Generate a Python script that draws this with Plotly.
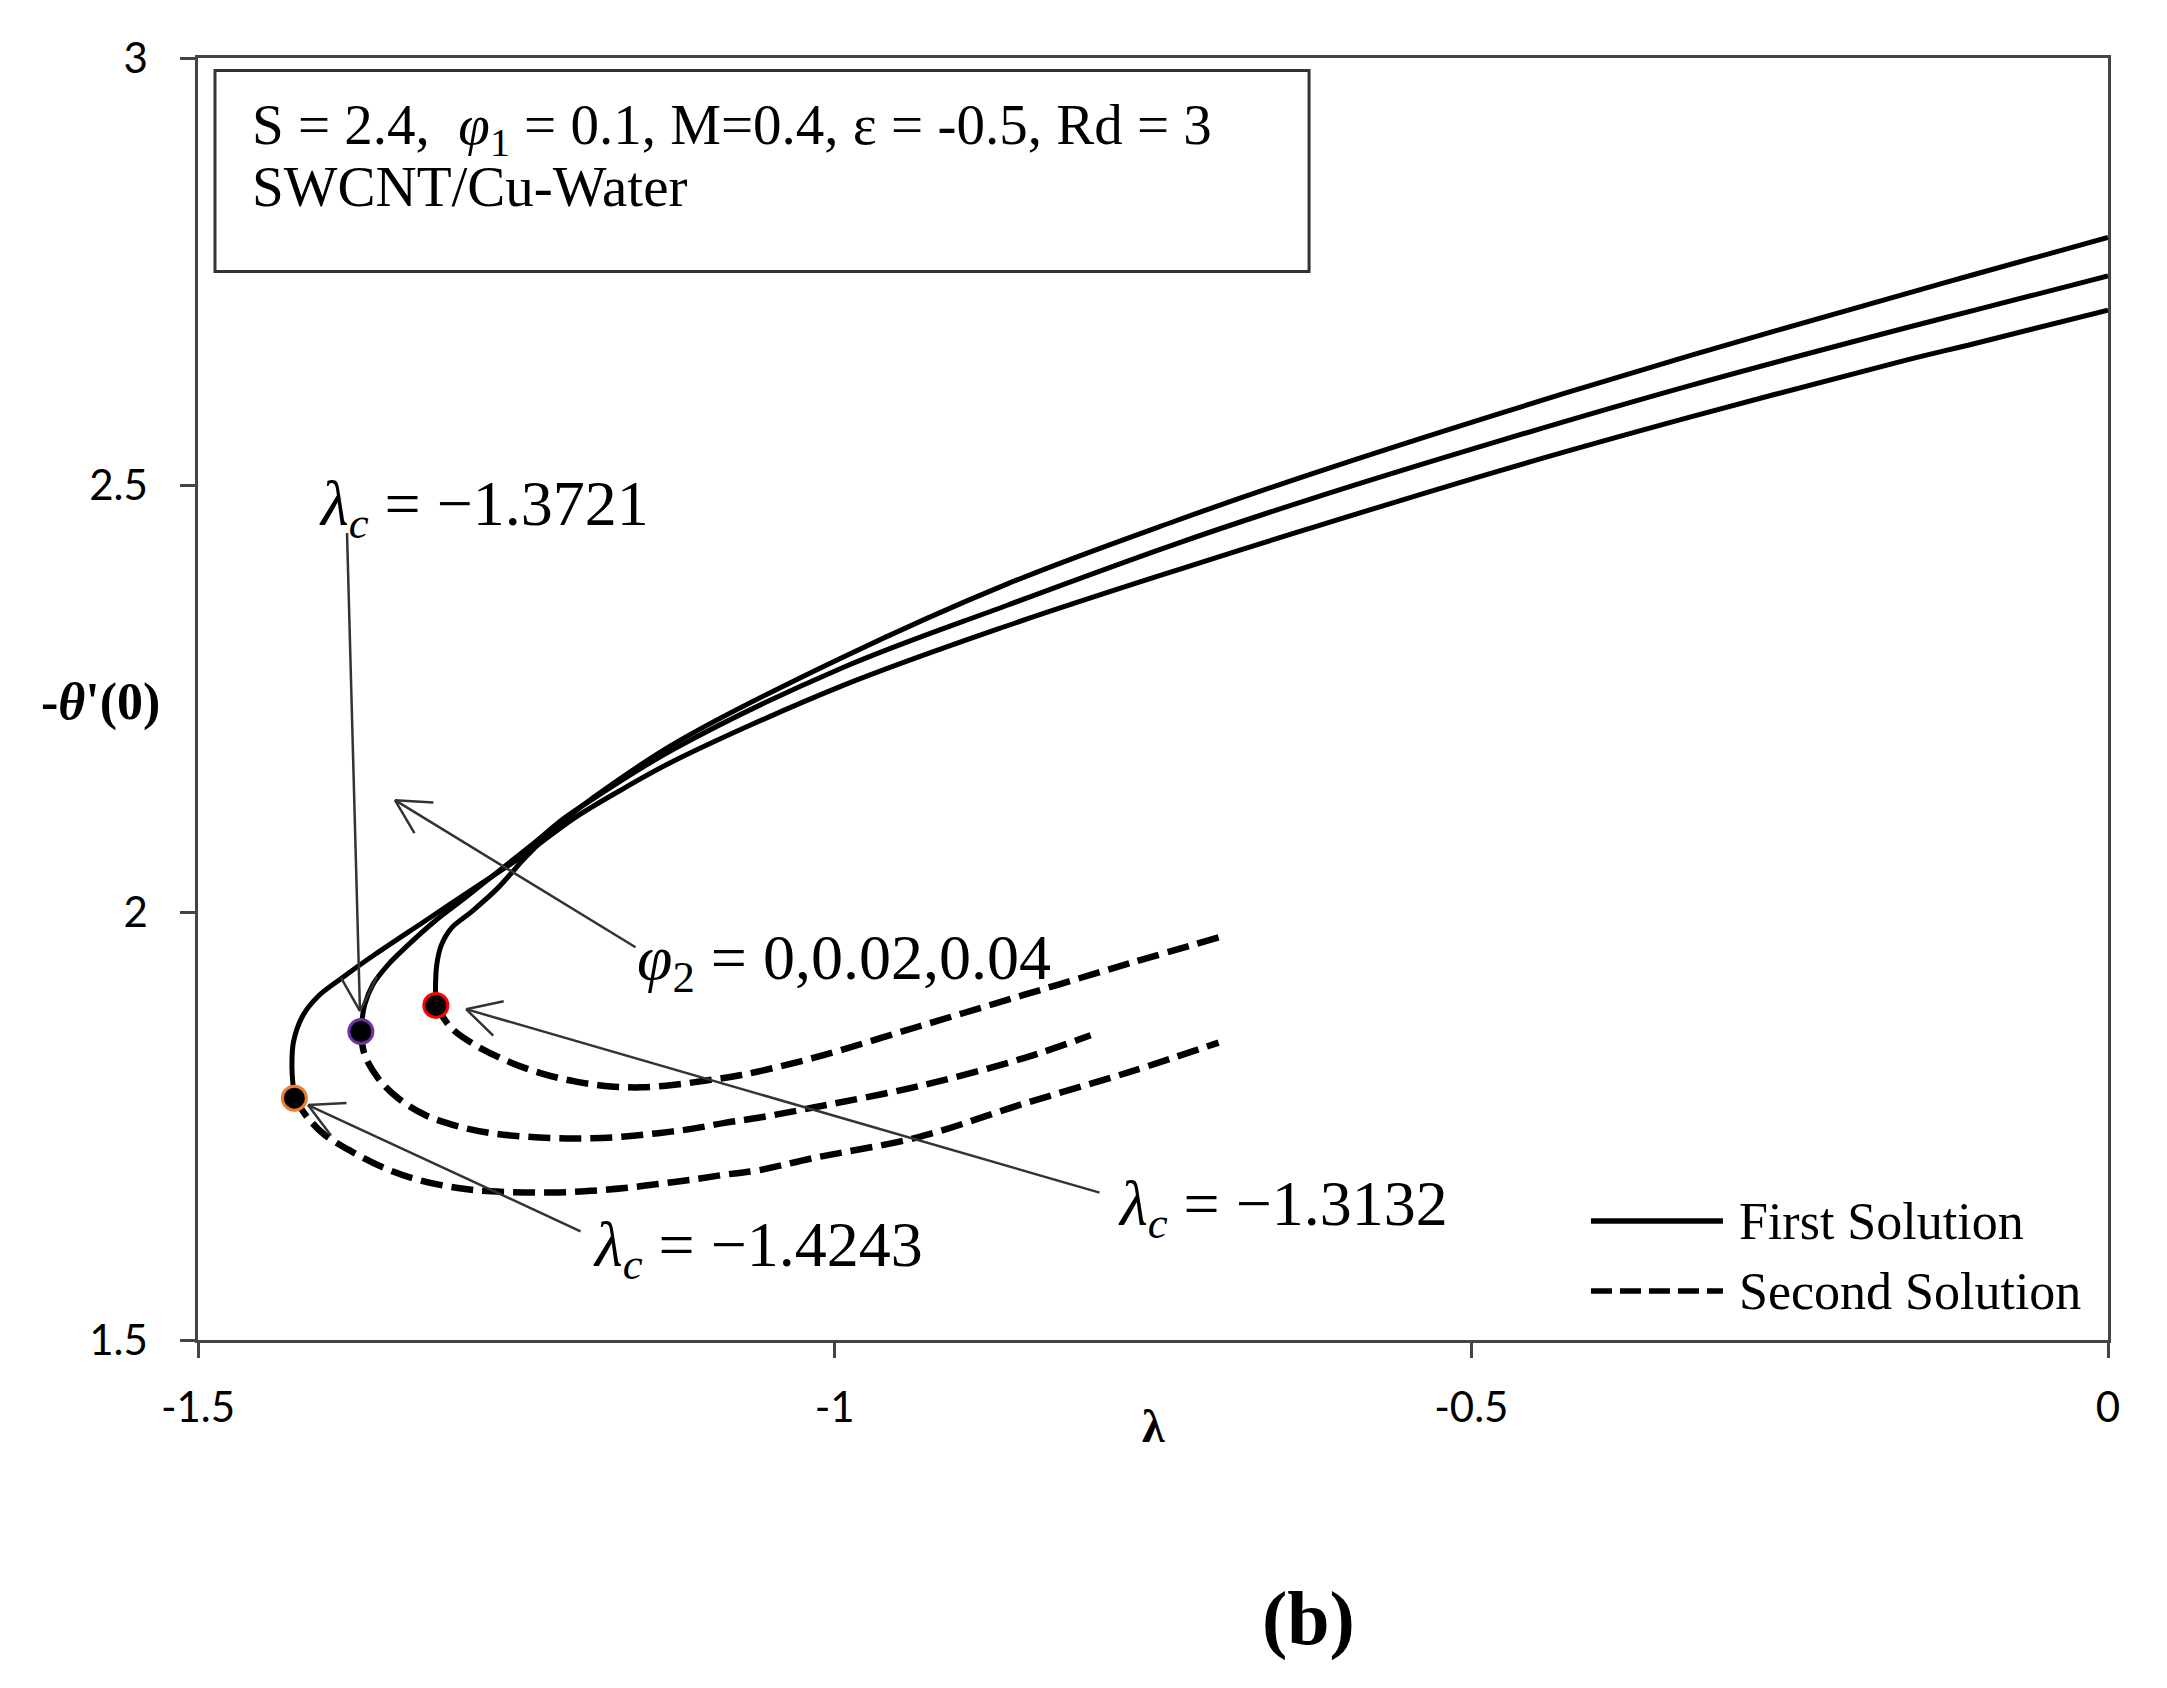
import math
import plotly.graph_objects as go

# ---------------- data ----------------
# First solution branches (upper), from the critical point to lambda = 0
lam_first_1 = [-1.4243, -1.4262, -1.4250, -1.4175, -1.4058, -1.3875, -1.3612, -1.3220, -1.2827,
               -1.2434, -1.2042, -1.1649, -1.1256, -0.9948, -0.8639, -0.7330, -0.6283, -0.4780,
               -0.3277, -0.157, -0.1045, 0.0]
th_first_1 = [1.783, 1.818, 1.849, 1.880, 1.902, 1.923, 1.951, 1.990, 2.029,
              2.068, 2.111, 2.146, 2.178, 2.265, 2.336, 2.400, 2.449, 2.517,
              2.580, 2.647, 2.666, 2.705]

lam_first_2 = [-1.3721, -1.3691, -1.3626, -1.3508, -1.3351, -1.3141, -1.2905, -1.2644, -1.2382,
               -1.2120, -1.1911, -1.1256, -0.9948, -0.8639, -0.7330, -0.6283, -0.4780,
               -0.3277, -0.157, -0.1045, 0.0]
th_first_2 = [1.861, 1.892, 1.916, 1.939, 1.962, 1.990, 2.017, 2.048, 2.079,
              2.111, 2.132, 2.192, 2.286, 2.360, 2.431, 2.483, 2.552,
              2.617, 2.685, 2.705, 2.745]

lam_first_3 = [-1.3132, -1.3135, -1.3125, -1.3089, -1.3010, -1.2853, -1.2644, -1.2434, -1.2251,
               -1.2042, -1.1911, -1.1256, -0.9948, -0.8639, -0.7330, -0.6283, -0.4780,
               -0.3277, -0.157, -0.1045, 0.0]
th_first_3 = [1.8915, 1.912, 1.939, 1.962, 1.982, 2.001, 2.029, 2.064, 2.091,
              2.118, 2.133, 2.198, 2.298, 2.385, 2.458, 2.512, 2.584,
              2.652, 2.725, 2.747, 2.790]

# Second solution branches (lower)
lam_second_1 = [-1.4243, -1.4136, -1.4005, -1.3796, -1.3534, -1.3272, -1.2958, -1.2697, -1.2434,
                -1.2173, -1.1911, -1.1649, -1.1387, -1.1126, -1.0864, -1.0600, -1.0168, -0.9341,
                -0.8515, -0.7688, -0.6985]
th_second_1 = [1.783, 1.7596, 1.740, 1.7207, 1.701, 1.6875, 1.6778, 1.674, 1.6727,
               1.6727, 1.6746, 1.6778, 1.6825, 1.6875, 1.6934, 1.6985, 1.7129, 1.7374,
               1.7765, 1.8134, 1.848]

lam_second_2 = [-1.3721, -1.3691, -1.3586, -1.3429, -1.3220, -1.2958, -1.2697, -1.2434, -1.2173,
                -1.1911, -1.1649, -1.1387, -1.1126, -1.0864, -1.0600, -1.0168, -0.9341, -0.8515,
                -0.7990]
th_second_2 = [1.861, 1.8337, 1.8064, 1.783, 1.7635, 1.750, 1.742, 1.738, 1.736,
               1.736, 1.738, 1.742, 1.747, 1.754, 1.760, 1.772, 1.797, 1.8298,
               1.8565]

lam_second_3 = [-1.3132, -1.3010, -1.2827, -1.2565, -1.2304, -1.2042, -1.1780, -1.1519, -1.1256,
                -1.0995, -1.0733, -1.0168, -0.9341, -0.8515, -0.7688, -0.6985]
th_second_3 = [1.8915, 1.865, 1.8454, 1.826, 1.812, 1.8026, 1.797, 1.7956, 1.7986,
               1.804, 1.810, 1.830, 1.8668, 1.9037, 1.9406, 1.971]

# Critical points
lam_crit = [-1.4243, -1.3721, -1.3132]
th_crit = [1.783, 1.861, 1.8915]
crit_colors = ["#ed7d31", "#7030a0", "#ff0000"]

x_ticks = [-1.5, -1, -0.5, 0]
x_tick_text = ["-1.5", "-1", "-0.5", "0"]
y_ticks = [1.5, 2, 2.5, 3]
y_tick_text = ["1.5", "2", "2.5", "3"]

# ---------------- figure ----------------
SERIF = "Liberation Serif"
SANS = "Lato"
W, H = 2167, 1688
ML, MR, MT, MB = 190, 67, 50, 356
X_RANGE = [-1.5, 0]
Y_RANGE = [1.5, 3]
PX_X = (W - ML - MR) / (X_RANGE[1] - X_RANGE[0])
PX_Y = (H - MT - MB) / (Y_RANGE[1] - Y_RANGE[0])

fig = go.Figure()

for lx, ty in [(lam_first_1, th_first_1), (lam_first_2, th_first_2), (lam_first_3, th_first_3)]:
    fig.add_trace(go.Scatter(x=lx, y=ty, mode="lines", showlegend=False,
                             line=dict(color="black", width=5, shape="spline", smoothing=1.0),
                             hoverinfo="skip"))
for lx, ty in [(lam_second_1, th_second_1), (lam_second_2, th_second_2), (lam_second_3, th_second_3)]:
    fig.add_trace(go.Scatter(x=lx, y=ty, mode="lines", showlegend=False,
                             line=dict(color="black", width=6.5, dash="22px,9px",
                                       shape="spline", smoothing=1.0),
                             hoverinfo="skip"))

fig.add_trace(go.Scatter(x=lam_crit, y=th_crit, mode="markers", showlegend=False,
                         marker=dict(color="black", size=24,
                                     line=dict(color=crit_colors, width=3)),
                         hoverinfo="skip"))

# ---------------- annotations ----------------
ann = []
lab_font = dict(family=SERIF, size=64, color="black")
arrow_col = "#333333"
ARROW_W = 2.5


def arrow(hx, hy, tx, ty, head_len=40, head_ang=28):
    """Thin arrow with an open V head (shaft + two short arms)."""
    out = [dict(x=hx, y=hy, ax=tx, ay=ty, xref="x", yref="y", axref="x", ayref="y",
                text="", showarrow=True, arrowhead=0, arrowwidth=ARROW_W,
                arrowcolor=arrow_col, standoff=0, startstandoff=0)]
    dx = (tx - hx) * PX_X
    dy = -(ty - hy) * PX_Y
    n = math.hypot(dx, dy)
    ux, uy = dx / n, dy / n
    for s in (1, -1):
        a = math.radians(s * head_ang)
        rx = ux * math.cos(a) - uy * math.sin(a)
        ry = ux * math.sin(a) + uy * math.cos(a)
        out.append(dict(x=hx, y=hy, xref="x", yref="y", ax=rx * head_len, ay=ry * head_len,
                        text="", showarrow=True, arrowhead=0, arrowwidth=ARROW_W,
                        arrowcolor=arrow_col, standoff=0, startstandoff=0))
    return out


def label(x, y, text):
    return dict(x=x, y=y, xref="x", yref="y", text=text, showarrow=False,
                font=lab_font, xanchor="center", yanchor="middle")


ann += arrow(-1.3728, 1.8848, -1.383, 2.446)
ann.append(label(-1.2754, 2.473, "<i>λ</i><sub><i>c</i></sub> = −1.3721"))
ann += arrow(-1.3453, 2.1316, -1.1552, 1.9585)
ann.append(label(-0.9927, 1.942, "<i>φ</i><sub>2</sub> = 0,0.02,0.04"))
ann += arrow(-1.2895, 1.8871, -0.7908, 1.6719)
ann.append(label(-0.6479, 1.654, "<i>λ</i><sub><i>c</i></sub> = −1.3132"))
ann += arrow(-1.4136, 1.7749, -1.1984, 1.6263)
ann.append(label(-1.0602, 1.6064, "<i>λ</i><sub><i>c</i></sub> = −1.4243"))

# info box text
box_font = dict(family=SERIF, size=57, color="black")
ann.append(dict(x=0.0272, y=0.9445, xref="paper", yref="paper", showarrow=False,
                xanchor="left", yanchor="middle", font=box_font,
                text="S = 2.4,  <i>φ</i><sub>1</sub> = 0.1, M=0.4, ε = -0.5, Rd = 3"))
ann.append(dict(x=0.0272, y=0.9000, xref="paper", yref="paper", showarrow=False,
                xanchor="left", yanchor="middle", font=box_font, text="SWCNT/Cu-Water"))

# legend texts
leg_font = dict(family=SERIF, size=52, color="black")
ann.append(dict(x=0.8058, y=0.0928, xref="paper", yref="paper", showarrow=False,
                xanchor="left", yanchor="middle", font=leg_font, text="First Solution"))
ann.append(dict(x=0.8058, y=0.0382, xref="paper", yref="paper", showarrow=False,
                xanchor="left", yanchor="middle", font=leg_font, text="Second Solution"))

# axis titles and panel label
ann.append(dict(x=-0.0513, y=0.4975, xref="paper", yref="paper", showarrow=False,
                xanchor="center", yanchor="middle",
                font=dict(family=SERIF, size=52, color="black"),
                text="<b>-<i>θ</i>'(0)</b>"))
ann.append(dict(x=0.5, y=-0.0671, xref="paper", yref="paper", showarrow=False,
                xanchor="center", yanchor="middle",
                font=dict(family=SERIF, size=46, color="black"), text="<b>λ</b>"))
ann.append(dict(x=0.5812, y=-0.2175, xref="paper", yref="paper", showarrow=False,
                xanchor="center", yanchor="middle",
                font=dict(family=SERIF, size=76, color="black"), text="<b>(b)</b>"))

shapes = [
    dict(type="rect", xref="paper", yref="paper", x0=0.0089, x1=0.5817, y0=0.8335, y1=0.9903,
         line=dict(color="#333333", width=3), fillcolor="rgba(0,0,0,0)"),
    dict(type="line", xref="paper", yref="paper", x0=0.7293, x1=0.7984, y0=0.0928, y1=0.0928,
         line=dict(color="black", width=5.5)),
    dict(type="line", xref="paper", yref="paper", x0=0.7293, x1=0.7984, y0=0.0382, y1=0.0382,
         line=dict(color="black", width=5.5, dash="21px,8px")),
]

axis_common = dict(showgrid=False, zeroline=False, showline=True, linecolor="#444444",
                   linewidth=2.5, mirror=True, ticks="outside", ticklen=15, tickwidth=2.5,
                   tickcolor="#444444", tickfont=dict(family=SANS, size=42, color="black"))

fig.update_layout(
    width=W, height=H,
    margin=dict(l=ML, r=MR, t=MT, b=MB, pad=0),
    paper_bgcolor="white", plot_bgcolor="white",
    xaxis=dict(range=X_RANGE, tickvals=x_ticks, ticktext=x_tick_text,
               ticklabelstandoff=14, **axis_common),
    yaxis=dict(range=Y_RANGE, tickvals=y_ticks, ticktext=y_tick_text,
               ticklabelstandoff=24, **axis_common),
    annotations=ann, shapes=shapes, showlegend=False,
)

fig.write_html("out.html")
